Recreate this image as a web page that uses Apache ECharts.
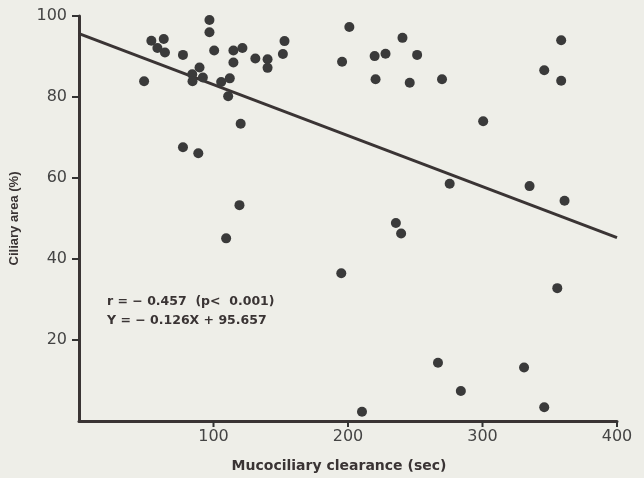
<!DOCTYPE html>
<html>
<head>
<meta charset="utf-8">
<script src="https://cdn.jsdelivr.net/npm/echarts@6/dist/echarts.min.js"></script>
<style>
html,body{margin:0;padding:0;background:#eeeee8;}
#chart{width:644px;height:478px;}
</style>
</head>
<body>
<div id="chart"></div>
<script>
// Mucociliary clearance (sec)
const clearance = [97,97,53.8,63,58.3,63.9,77.3,100.5,114.8,121.5,114.8,131.1,89.6,84.2,92.1,84.4,48.4,105.7,112.1,110.9,120.2,77.3,88.7,
  140.2,140.2,152.8,151.6,201,195.6,219.8,227.9,240.5,251.4,220.5,245.9,269.9,
  358.5,345.9,358.5,300.5,
  275.6,335,361,235.6,239.5,195,355.6,
  119.3,109.4,
  266.9,330.9,283.9,345.9,210.4];
// Ciliary area (%)
const ciliaryArea = [99.0,96.0,93.9,94.3,92.1,91.0,90.4,91.5,91.5,92.1,88.5,89.5,87.3,85.6,84.8,83.9,83.9,83.7,84.6,80.2,73.4,67.6,66.1,
  89.3,87.2,93.8,90.6,97.3,88.7,90.1,90.7,94.6,90.4,84.4,83.5,84.4,
  94.0,86.6,84.0,74.0,
  58.6,58.0,54.4,48.9,46.3,36.5,32.8,
  53.3,45.1,
  14.4,13.2,7.4,3.4,2.3];
const fitLine = [[0, 95.657], [400, 45.257]];
const xTicks = [100, 200, 300, 400];
const yTicks = [20, 40, 60, 80, 100];
const annotations = ['r = \u2212 0.457  (p<  0.001)', 'Y = \u2212 0.126X + 95.657'];

const ink = '#3a3434';
const chart = echarts.init(document.getElementById('chart'));
chart.setOption({
  backgroundColor: '#eeeee8',
  animation: false,
  grid: {left: 78, right: 27, top: 16, bottom: 55, containLabel: false},
  xAxis: {
    type: 'value', min: 0, max: 400, interval: 100,
    name: 'Mucociliary clearance (sec)', nameLocation: 'middle', nameGap: 38,
    nameTextStyle: {fontFamily: 'DejaVu Sans', fontWeight: 'bold', fontSize: 14, color: ink, padding: [0, 18, 0, 0]},
    axisLine: {show: true, onZero: false, lineStyle: {color: ink, width: 3}},
    axisTick: {show: false},
    axisLabel: {
      fontFamily: 'DejaVu Sans', fontSize: 16, color: '#444', margin: 8, showMinLabel: false
    },
    splitLine: {show: false}
  },
  yAxis: {
    type: 'value', min: 0, max: 100, interval: 20,
    name: 'Ciliary area (%)', nameLocation: 'middle', nameGap: 58, nameRotate: 90,
    nameTextStyle: {fontFamily: 'Liberation Sans', fontWeight: 'bold', fontSize: 13, color: ink},
    axisLine: {show: true, onZero: false, lineStyle: {color: ink, width: 3}},
    axisTick: {show: false},
    axisLabel: {
      fontFamily: 'DejaVu Sans', fontSize: 16, color: '#444', margin: 12, showMinLabel: false
    },
    splitLine: {show: false}
  },
  series: [
    {
      type: 'line', data: fitLine, symbol: 'none',
      lineStyle: {color: ink, width: 3}, z: 2
    },
    {
      type: 'scatter', data: clearance.map((x, i) => [x, ciliaryArea[i]]),
      symbolSize: 10, itemStyle: {color: '#3a3a3a', opacity: 1}, z: 3
    },
    {
      // x-axis tick marks, positioned through the axis scale
      type: 'custom', clip: false, silent: true, z: 4,
      data: xTicks.map(v => [v, 0]),
      renderItem: (params, api) => {
        const p = api.coord([api.value(0), 0]);
        return {type: 'line', shape: {x1: p[0], y1: p[1], x2: p[0], y2: p[1] + 6},
          style: {stroke: '#333', lineWidth: 2}};
      }
    },
    {
      // y-axis tick marks, positioned through the axis scale
      type: 'custom', clip: false, silent: true, z: 4,
      data: yTicks.map(v => [0, v]),
      renderItem: (params, api) => {
        const p = api.coord([0, api.value(1)]);
        return {type: 'line', shape: {x1: p[0], y1: p[1], x2: p[0] - 7, y2: p[1]},
          style: {stroke: '#333', lineWidth: 2}};
      }
    }
  ],
  graphic: [
    {type: 'text', left: 107, top: 295, style: {text: annotations[0], fontFamily: 'DejaVu Sans', fontWeight: 'bold', fontSize: 12.5, fill: ink}},
    {type: 'text', left: 107, top: 314, style: {text: annotations[1], fontFamily: 'DejaVu Sans', fontWeight: 'bold', fontSize: 12.5, fill: ink}}
  ]
});
</script>
</body>
</html>
